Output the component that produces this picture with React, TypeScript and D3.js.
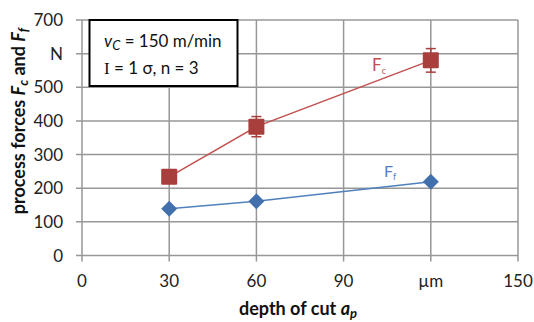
import React, { useEffect } from "react";
import * as d3 from "d3";

// depth of cut a_p in µm
const depths = [30, 60, 120];
const fcValues = [234, 383, 580];
const fcErrors = [8, 30, 35];
const ffValues = [139, 161, 219];
const ffErrors = [4, 4, 5];

const xTicks = [0, 30, 60, 90, 120, 150];
const xTickLabels = ["0", "30", "60", "90", "µm", "150"];
const yTicks = [0, 100, 200, 300, 400, 500, 600, 700];
const yTickLabels = ["0", "100", "200", "300", "400", "500", "N", "700"];

const W = 534;
const H = 322;
const FONT = "Lato, 'Open Sans', sans-serif";
const red = "#C0504D";
const redMark = "#A93F3C";
const blue = "#4F81BD";
const blueMark = "#4170AD";
const grid = "#979797";

export default function App() {
  useEffect(() => {
    document.body.style.margin = "0";
  }, []);

  const x = d3.scaleLinear().domain([0, 150]).range([82, 518]);
  const y = d3.scaleLinear().domain([0, 700]).range([255.5, 20]);

  const line = d3
    .line<number>()
    .x((_, i) => x(depths[i]))
    .y((v) => y(v));

  // diamond with 16px diagonals
  const diamond = "M0,-8L8,0L0,8L-8,0Z";

  return (
    <svg width={W} height={H} style={{ display: "block", fontFamily: FONT }}>
      <rect width={W} height={H} fill="#fff" />
      {/* grid */}
      {yTicks.map((t) => (
        <line key={"gy" + t} x1={x(0) - 6} x2={x(150)} y1={y(t)} y2={y(t)} stroke={grid} strokeWidth={1.5} />
      ))}
      {xTicks.map((t) => (
        <line key={"gx" + t} x1={x(t)} x2={x(t)} y1={y(700)} y2={y(0) + 6} stroke={grid} strokeWidth={1.5} />
      ))}
      {/* tick labels */}
      {yTicks.map((t, i) => (
        <text key={"ly" + t} x={63} y={y(t)} dy="0.36em" textAnchor="end" fontSize={17} fill="#222">
          {yTickLabels[i]}
        </text>
      ))}
      {xTicks.map((t, i) => (
        <text key={"lx" + t} x={x(t)} y={287} textAnchor="middle" fontSize={17} fill="#222">
          {xTickLabels[i]}
        </text>
      ))}
      {/* axis titles */}
      <text x={298} y={315} textAnchor="middle" fontSize={18} fontWeight="bold" fill="#111">
        depth of cut <tspan fontStyle="italic">a</tspan>
        <tspan fontStyle="italic" fontSize={13} dy={3}>p</tspan>
      </text>
      <text transform="translate(25,121) rotate(-90)" textAnchor="middle" fontSize={18} fontWeight="bold" fill="#111">
        process forces <tspan fontStyle="italic">F</tspan>
        <tspan fontStyle="italic" fontSize={13} dy={3}>c</tspan>
        <tspan dy={-3}> and </tspan>
        <tspan fontStyle="italic">F</tspan>
        <tspan fontStyle="italic" fontSize={13} dy={3}>f</tspan>
      </text>
      {/* Ff series */}
      <path d={line(ffValues) || ""} fill="none" stroke={blue} strokeWidth={1.5} />
      {depths.map((d, i) => (
        <g key={"ff" + d}>
          <line x1={x(d)} x2={x(d)} y1={y(ffValues[i] - ffErrors[i])} y2={y(ffValues[i] + ffErrors[i])} stroke={blue} strokeWidth={1.5} />
          <path d={diamond} transform={`translate(${x(d)},${y(ffValues[i])})`} fill={blueMark} />
        </g>
      ))}
      {/* Fc series */}
      <path d={line(fcValues) || ""} fill="none" stroke={red} strokeWidth={1.5} />
      {depths.map((d, i) => {
        const cx = x(d);
        const top = y(fcValues[i] + fcErrors[i]);
        const bot = y(fcValues[i] - fcErrors[i]);
        return (
          <g key={"fc" + d}>
            <line x1={cx} x2={cx} y1={top} y2={bot} stroke={redMark} strokeWidth={1.5} />
            <line x1={cx - 5} x2={cx + 5} y1={top} y2={top} stroke={redMark} strokeWidth={1.5} />
            <line x1={cx - 5} x2={cx + 5} y1={bot} y2={bot} stroke={redMark} strokeWidth={1.5} />
            <rect x={cx - 8} y={y(fcValues[i]) - 8} width={16} height={16} rx={1} fill={redMark} />
          </g>
        );
      })}
      {/* series labels */}
      <text x={372} y={71} fontSize={17} fill={red}>
        F<tspan fontSize={9} dy={3}>c</tspan>
      </text>
      <text x={384} y={177} fontSize={16} fill={blue}>
        F<tspan fontSize={9} dy={3}>f</tspan>
      </text>
      {/* info box */}
      <rect x={89.5} y={20} width={148} height={66} fill="#fff" stroke="#000" strokeWidth={2} />
      <text x={104} y={47} fontSize={17} fill="#111">
        <tspan fontStyle="italic">v</tspan>
        <tspan fontStyle="italic" fontSize={13} dy={3}>C</tspan>
        <tspan dy={-3}> = 150 m/min</tspan>
      </text>
      <text x={104} y={74} fontSize={17} fill="#111">
        <tspan fontFamily="'Liberation Serif', serif">I</tspan> = 1 σ, n = 3
      </text>
    </svg>
  );
}
